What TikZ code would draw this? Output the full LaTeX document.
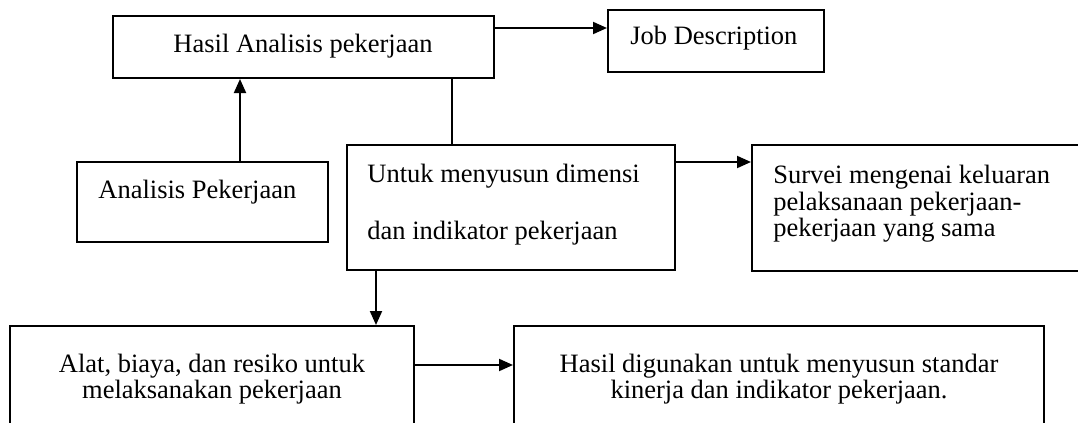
\documentclass[tikz,border=0pt]{standalone}
\usepackage{fontspec}
\setmainfont{Liberation Serif}
\usetikzlibrary{arrows.meta,fit,calc}
\begin{document}
\begin{tikzpicture}[x=0.5pt,y=-0.5pt,
  box/.style={draw, line width=1pt, inner sep=0pt},
  txt/.style={font=\fontsize{13.25pt}{15pt}\selectfont, inner sep=0pt},
  conn/.style={line width=1pt},
  arr/.style={conn, -{Triangle[length=7pt,width=6pt]}}]
\clip (0,0) rectangle (1078,423);
\fill[white] (0,0) rectangle (1078,423);
% boxes
\node[box, fit={(113,16) (494,78)}] (ha) {};
\node[box, fit={(608,10) (824,72)}] (jd) {};
\node[box, fit={(77,162) (328,242)}] (ap) {};
\node[box, fit={(347,145) (675,270)}] (um) {};
\node[box, fit={(752,145) (1095,271)}] (sv) {};
\node[box, fit={(10,326) (414,445)}] (ab) {};
\node[box, fit={(514,326) (1044,445)}] (hb) {};
% texts
\node[txt, anchor=base] (t1) at (303,53) {Hasil Analisis pekerjaan};
\node[txt, anchor=base west] (t2) at (630,45) {Job Description};
\node[txt, anchor=base west] (t3) at (98,198) {Analisis Pekerjaan};
\node[txt, anchor=base west] (t4a) at (367,182) {Untuk menyusun dimensi};
\node[txt, anchor=base west] (t4b) at (367,239) {dan indikator pekerjaan};
\node[txt, anchor=base west] (t5a) at (773,183) {Survei mengenai keluaran};
\node[txt, anchor=base west] (t5b) at (773,210) {pelaksanaan pekerjaan-};
\node[txt, anchor=base west] (t5c) at (773,236) {pekerjaan yang sama};
\node[txt, anchor=base] (t6a) at (212,372) {Alat, biaya, dan resiko untuk};
\node[txt, anchor=base] (t6b) at (212,398) {melaksanakan pekerjaan};
\node[txt, anchor=base] (t7a) at (779,372) {Hasil digunakan untuk menyusun standar};
\node[txt, anchor=base] (t7b) at (779,398) {kinerja dan indikator pekerjaan.};
% connectors
\coordinate (a1) at ($(ha.north east)+(0,13)$);
\draw[arr] (a1) -- (a1 -| jd.west);
\coordinate (a2) at ($(ap.north west)+(164,0)$);
\draw[arr] (a2) -- (a2 |- ha.south);
\coordinate (a3) at ($(ha.south west)+(340,0)$);
\draw[conn] (a3) -- (a3 |- um.north);
\coordinate (a4) at ($(um.north east)+(0,18)$);
\draw[arr] (a4) -- (a4 -| sv.west);
\coordinate (a5) at ($(um.south west)+(30,0)$);
\draw[arr] (a5) -- (a5 |- ab.north);
\coordinate (a6) at ($(ab.north east)+(0,40)$);
\draw[arr] (a6) -- (a6 -| hb.west);
\end{tikzpicture}
\end{document}
